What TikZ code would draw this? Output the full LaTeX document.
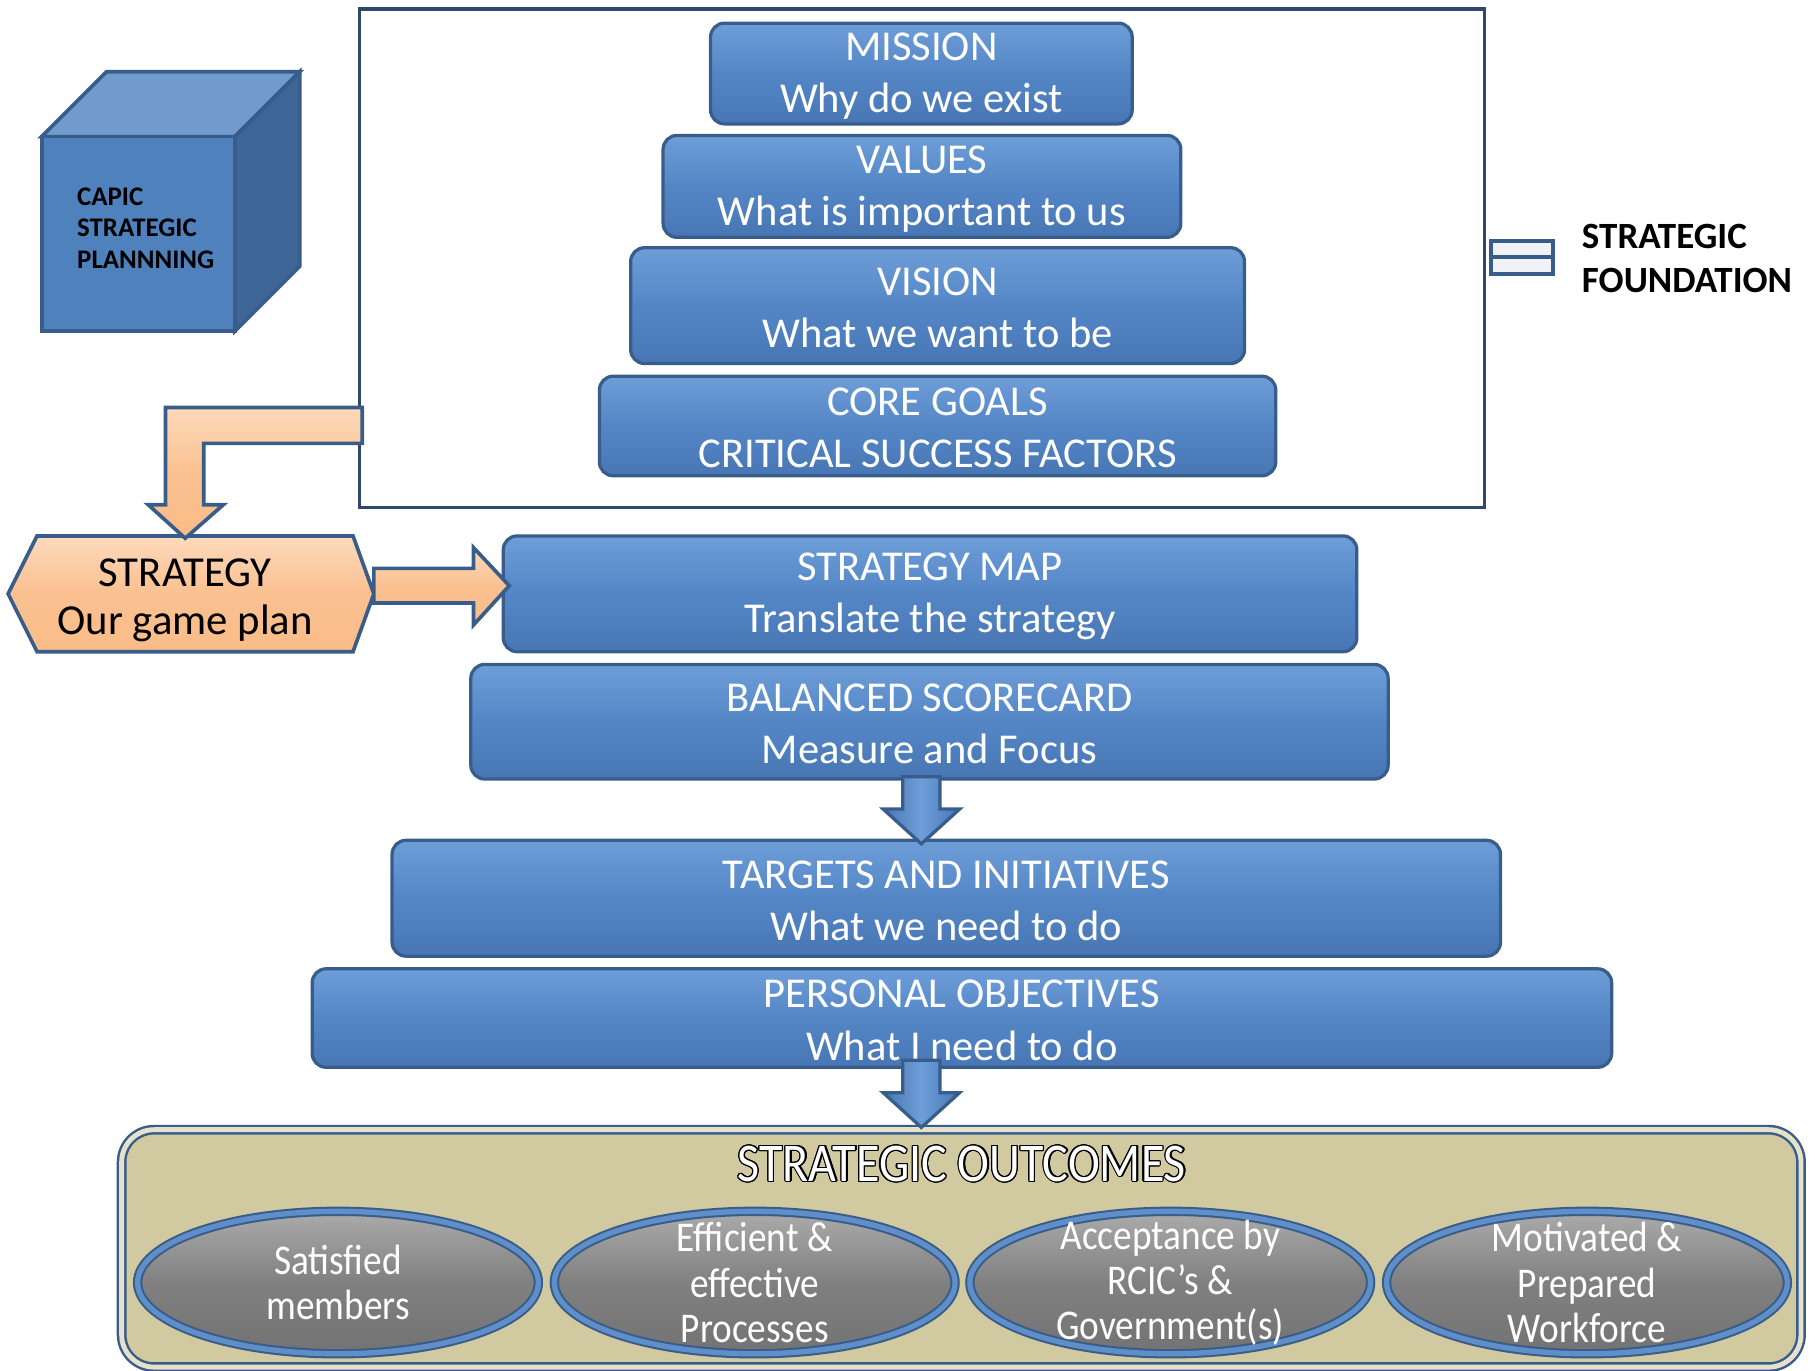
\documentclass[tikz,border=0pt]{standalone}
\usepackage{fontspec}
\setmainfont{Carlito}
\newfontfamily\narrowfont[FakeStretch=0.88]{Carlito}
\usepackage{contour}
\contourlength{0.3pt}
\usetikzlibrary{shapes.geometric}

\definecolor{tierblue}{RGB}{84,134,198}
\definecolor{tiertop}{RGB}{110,158,216}
\definecolor{tierbot}{RGB}{72,118,180}
\definecolor{edgeblue}{RGB}{56,93,138}
\definecolor{framenavy}{RGB}{47,72,108}
\definecolor{peach}{RGB}{250,192,144}
\definecolor{peachlight}{RGB}{253,218,188}
\definecolor{khaki}{RGB}{209,201,160}
\definecolor{outgray}{RGB}{128,128,128}
\definecolor{rimblue}{RGB}{95,142,200}
\definecolor{cubefront}{RGB}{79,129,189}
\definecolor{cubetop}{RGB}{114,155,205}
\definecolor{cubeside}{RGB}{63,102,152}

\tikzset{
  tiertext/.style={text=white, align=center, yshift=-0.02cm,
    font=\fontsize{10.45}{12.8}\selectfont},
  tier/.style={rectangle, rounded corners=0.12cm, draw=edgeblue, line width=0.8pt,
    top color=tiertop, bottom color=tierbot, middle color=tierblue,
    inner sep=0pt, label={[tiertext]center:#1}},
  cubeface/.style={draw=edgeblue, line width=0.9pt, line join=miter},
  peachshape/.style={draw=edgeblue, line width=0.9pt,
    top color=peachlight, bottom color=peach!95!orange, middle color=peach},
  bluearrow/.style={draw=edgeblue, line width=0.8pt,
    left color=tierbot, right color=tierbot, middle color=tiertop},
  eqbar/.style={draw=edgeblue, line width=1pt, fill=white!92!edgeblue},
  outcome/.style={ellipse, draw=edgeblue, line width=0.5pt, double=rimblue,
    double distance=1.3pt, top color=black!33, bottom color=black!55,
    middle color=outgray, minimum width=3.46cm, minimum height=1.23cm, inner sep=0pt,
    label={[outtext]center:#1}},
  outtext/.style={text=white, align=center,
    font=\narrowfont\fontsize{10.4}{11.1}\selectfont},
  downarr/.pic={
    \draw[bluearrow] (-16,0) -- (-16,28) -- (-33,28) -- (0,58) -- (33,28)
      -- (16,28) -- (16,0) -- cycle;
  }
}

\begin{document}
\begin{tikzpicture}[x=0.01cm, y=-0.01cm]
\useasboundingbox (0,0) rectangle (1568,1184);

% strategic foundation frame
\node[draw=framenavy, line width=0.8pt, minimum width=9.71cm, minimum height=4.30cm,
  inner sep=0pt] (found) at (796.5,223) {};

\node[tier={MISSION\\Why do we exist}, minimum width=3.64cm, minimum height=0.87cm]
  (mission) at (796,63.5) {};
\node[tier={VALUES\\What is important to us}, minimum width=4.47cm, minimum height=0.88cm]
  (values) at (796.5,161) {};
\node[tier={VISION\\What we want to be}, minimum width=5.30cm, minimum height=1.00cm]
  (vision) at (810,264) {};
\node[tier={CORE GOALS\\CRITICAL SUCCESS FACTORS}, minimum width=5.84cm,
  minimum height=0.86cm] (goals) at (810,368) {};

% equals sign and label
\draw[eqbar] (1288,208) rectangle (1342,222);
\draw[eqbar] (1288,222) rectangle (1342,237);
\node[anchor=west, align=left, inner sep=0pt,
  font=\bfseries\fontsize{9.1}{10.8}\selectfont] (foundlabel) at (1366,223)
  {STRATEGIC\\FOUNDATION};

% cube
\draw[cubeface, fill=cubetop] (36,118) -- (92,62) -- (259,62) -- (203,118) -- cycle;
\draw[cubeface, fill=cubeside] (203,118) -- (259,62) -- (259,230) -- (203,286) -- cycle;
\draw[cubeface, fill=cubefront] (36,118) rectangle (203,286);
\node[anchor=west, align=left, inner sep=0pt,
  font=\bfseries\fontsize{6.6}{7.7}\selectfont] (cubelabel) at (66,197)
  {CAPIC\\STRATEGIC\\PLANNNING};

% lower tiers
\node[tier={STRATEGY MAP\\Translate the strategy}, minimum width=7.37cm,
  minimum height=1.00cm] (map) at (803.5,513) {};
\node[tier={BALANCED SCORECARD\\Measure and Focus}, minimum width=7.92cm,
  minimum height=0.99cm] (bsc) at (803,623.5) {};
\node[tier={TARGETS AND INITIATIVES\\What we need to do}, minimum width=9.57cm,
  minimum height=1.00cm] (targets) at (817.5,776) {};
\node[tier={PERSONAL OBJECTIVES\\What I need to do}, minimum width=11.22cm,
  minimum height=0.85cm] (personal) at (831,879.5) {};

% strategy hexagon
\draw[peachshape] (7,513) -- (32,463) -- (305,463) -- (323,513) -- (305,563)
  -- (32,563) -- cycle;
\node[align=center, inner sep=0pt, font=\fontsize{10.5}{11.7}\selectfont]
  (strategy) at (160,518.5) {STRATEGY\\Our game plan};

% peach arrows
\draw[peachshape] (313,352) -- (143,352) -- (143,436) -- (128,436) -- (160,465)
  -- (193,436) -- (176,436) -- (176,383) -- (313,383) -- cycle;
\draw[peachshape] (323,491) -- (409,491) -- (409,473) -- (440,506) -- (409,540)
  -- (409,521) -- (323,521) -- cycle;

% outcomes
\node[rectangle, rounded corners=0.28cm, draw=edgeblue, line width=0.6pt,
  double=khaki!55!white, double distance=1.2pt, fill=khaki,
  minimum width=14.50cm, minimum height=2.05cm] (outcomes) at (830.5,1078.5) {};
\node[text=white, inner sep=0pt, font=\narrowfont\fontsize{13.4}{15}\selectfont]
  (outtitle) at (831,1006) {\contour{black}{STRATEGIC OUTCOMES}};

\node[outcome={Satisfied\\members}] (members) at (292,1108) {};
\node[outcome={Efficient \&\\effective\\Processes}] (processes) at (652,1108) {};
\node[outcome={Acceptance by\\RCIC’s \&\\Government(s)}] (acceptance) at (1011,1108) {};
\node[outcome={Motivated \&\\Prepared\\Workforce}] (workforce) at (1371,1108) {};

% down arrows
\pic at (796,671) {downarr};
\pic at (796,916) {downarr};
\end{tikzpicture}
\end{document}
